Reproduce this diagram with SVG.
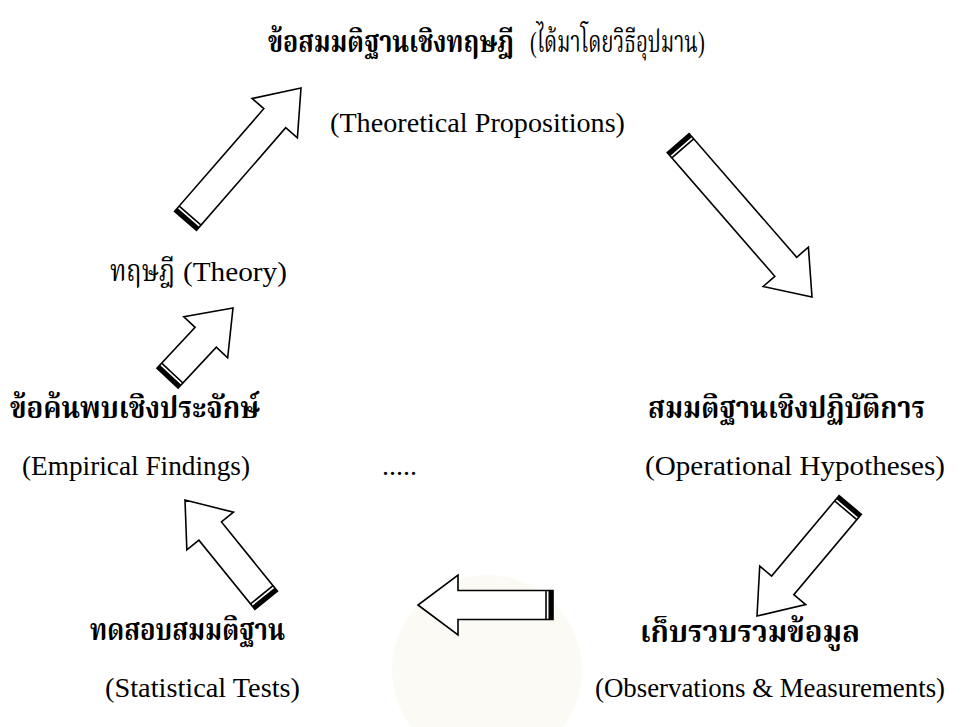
<svg xmlns="http://www.w3.org/2000/svg" width="970" height="727" viewBox="0 0 970 727">
<style>
.en{font-family:"Liberation Serif","Times New Roman",serif;font-size:28px;fill:#000}
.th{font-family:"Liberation Serif","Noto Serif Thai","Noto Sans Thai",serif;font-size:30px;fill:#000}
.b{font-weight:bold}
.arr{fill:#fff;stroke:#000;stroke-width:1.6;stroke-linejoin:miter}
.band{fill:#000}
.thin{stroke:#000;stroke-width:1.6}
</style>
<rect width="970" height="727" fill="#fff"/>
<circle cx="487" cy="670" r="95" fill="#fbfaf5"/>
<g id="title">
<text class="th b" transform="translate(268,52) scale(0.86,1)" x="0" y="0" textLength="286" lengthAdjust="spacingAndGlyphs">ข้อสมมติฐานเชิงทฤษฎี</text>
<text class="th" transform="translate(530,52) scale(0.78,1)" x="0" y="0" textLength="224" lengthAdjust="spacingAndGlyphs">(ได้มาโดยวิธีอุปมาน)</text>
</g>
<g id="theoretical-propositions"><text class="en" x="330" y="132" textLength="295" lengthAdjust="spacingAndGlyphs">(Theoretical Propositions)</text></g>
<g id="theory">
<text class="th" x="110" y="281" textLength="65" lengthAdjust="spacingAndGlyphs">ทฤษฎี</text>
<text class="en" x="183" y="281" textLength="104" lengthAdjust="spacingAndGlyphs">(Theory)</text>
</g>
<g id="empirical-findings">
<text class="th b" x="10" y="418" textLength="250" lengthAdjust="spacingAndGlyphs">ข้อค้นพบเชิงประจักษ์</text>
<text class="en" x="22" y="475" textLength="228" lengthAdjust="spacingAndGlyphs">(Empirical Findings)</text>
</g>
<g id="dots"><text class="en" x="382" y="475">.....</text></g>
<g id="operational-hypotheses">
<text class="th b" x="648" y="418" textLength="277" lengthAdjust="spacingAndGlyphs">สมมติฐานเชิงปฏิบัติการ</text>
<text class="en" x="645" y="475" textLength="300" lengthAdjust="spacingAndGlyphs">(Operational Hypotheses)</text>
</g>
<g id="statistical-tests">
<text class="th b" x="90" y="640" textLength="195" lengthAdjust="spacingAndGlyphs">ทดสอบสมมติฐาน</text>
<text class="en" x="105" y="697" textLength="195" lengthAdjust="spacingAndGlyphs">(Statistical Tests)</text>
</g>
<g id="observations">
<text class="th b" x="640" y="642" textLength="220" lengthAdjust="spacingAndGlyphs">เก็บรวบรวมข้อมูล</text>
<text class="en" x="595" y="697" textLength="350" lengthAdjust="spacingAndGlyphs">(Observations &amp; Measurements)</text>
</g>
<g id="connectors">
<g transform="translate(301,88) rotate(-49)">
<path class="arr" d="M0,0 L-40,-30 L-40,-14.5 L-176,-14.5 L-176,14.5 L-40,14.5 L-40,30 Z"/>
<rect class="band" x="-176" y="-14.5" width="4.5" height="29"/><line class="thin" x1="-169" y1="-14.5" x2="-169" y2="14.5"/>
</g>
<g transform="translate(812,297) rotate(49)">
<path class="arr" d="M0,0 L-40,-30 L-40,-14.5 L-204,-14.5 L-204,14.5 L-40,14.5 L-40,30 Z"/>
<rect class="band" x="-204" y="-14.5" width="4.5" height="29"/><line class="thin" x1="-197" y1="-14.5" x2="-197" y2="14.5"/>
</g>
<g transform="translate(233,308) rotate(-47)">
<path class="arr" d="M0,0 L-40,-30 L-40,-14.5 L-96,-14.5 L-96,14.5 L-40,14.5 L-40,30 Z"/>
<rect class="band" x="-96" y="-14.5" width="4.5" height="29"/><line class="thin" x1="-89" y1="-14.5" x2="-89" y2="14.5"/>
</g>
<g transform="translate(757,616) rotate(130)">
<path class="arr" d="M0,0 L-40,-30 L-40,-14.5 L-145,-14.5 L-145,14.5 L-40,14.5 L-40,30 Z"/>
<rect class="band" x="-145" y="-14.5" width="4.5" height="29"/><line class="thin" x1="-138" y1="-14.5" x2="-138" y2="14.5"/>
</g>
<g transform="translate(418,605) rotate(180)">
<path class="arr" d="M0,0 L-40,-30 L-40,-14.5 L-135,-14.5 L-135,14.5 L-40,14.5 L-40,30 Z"/>
<rect class="band" x="-135" y="-14.5" width="4.5" height="29"/><line class="thin" x1="-128" y1="-14.5" x2="-128" y2="14.5"/>
</g>
<g transform="translate(185,500) rotate(-129)">
<path class="arr" d="M0,0 L-40,-30 L-40,-14.5 L-129,-14.5 L-129,14.5 L-40,14.5 L-40,30 Z"/>
<rect class="band" x="-129" y="-14.5" width="4.5" height="29"/><line class="thin" x1="-122" y1="-14.5" x2="-122" y2="14.5"/>
</g>
</g>
</svg>
